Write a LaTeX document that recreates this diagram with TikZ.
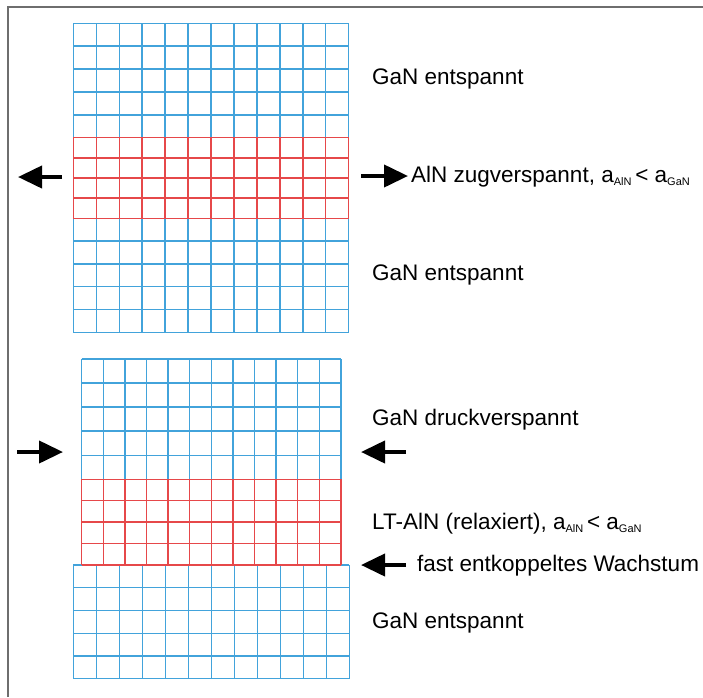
\documentclass[tikz,border=0pt]{standalone}
\usepackage{fontspec}
\setmainfont{Liberation Sans}
\usetikzlibrary{arrows.meta}

\definecolor{latblue}{HTML}{42A3DB}
\definecolor{latred}{HTML}{E6484A}
\definecolor{framegray}{HTML}{6E6E6E}

% lattice: x0, y0, x1, y1, columns, rows, line style
\newcommand\lattice[7]{%
  \pgfmathsetmacro\cellw{(#3-#1)/#5}%
  \pgfmathsetmacro\cellh{(#4-#2)/#6}%
  \foreach \k in {0,...,#5} {\draw[#7] ({#1+\k*\cellw},#2) -- ({#1+\k*\cellw},#4);}%
  \foreach \k in {0,...,#6} {\draw[#7] (#1,{#2+\k*\cellh}) -- (#3,{#2+\k*\cellh});}%
}
\newcommand\subtxt[1]{\raisebox{-3pt}{\fontsize{11}{13}\selectfont #1}}

\begin{document}
\begin{tikzpicture}[x=1pt,y=-1pt,
  gan/.style={latblue,line width=1.4pt},
  aln/.style={latred,line width=1.4pt},
  caption/.style={anchor=base west,inner sep=0pt,font=\fontsize{22.5}{27}\selectfont},
  bigarrow/.style={line width=4pt,-{Triangle[length=24pt,width=22pt]}}]

\useasboundingbox (0,0) rectangle (703,697);
\fill[white] (0,0) rectangle (703,697);

% frame
\draw[framegray,line width=1.5pt] (8,697) -- (8,7) -- (703,7);

% upper stack: relaxed GaN / tensile AlN / relaxed GaN
\lattice{73.3}{23.3}{348.7}{137.7}{12}{5}{gan}
\lattice{73.3}{218.3}{348.7}{332.3}{12}{5}{gan}
\lattice{73.3}{137.7}{348.7}{218.3}{12}{4}{aln}

% lower stack: compressed GaN / LT-AlN / relaxed GaN
\lattice{81.7}{359}{341}{479.3}{12}{5}{gan}
\lattice{73.3}{565}{349.3}{678.7}{12}{5}{gan}
\lattice{81.7}{479.3}{341}{565}{12}{4}{aln}

% captions
\node[caption] (g1) at (372,84) {GaN entspannt};
\node[caption] (a1) at (411,182) {AlN zugverspannt, a\subtxt{AlN}\,< a\subtxt{GaN}};
\node[caption] (g2) at (372,280) {GaN entspannt};
\node[caption] (g3) at (372,425) {GaN druckverspannt};
\node[caption] (a2) at (372,529) {LT-AlN (relaxiert), a\subtxt{AlN}\,< a\subtxt{GaN}};
\node[caption] (w1) at (417,571) {fast entkoppeltes Wachstum};
\node[caption] (g4) at (372,628) {GaN entspannt};

% strain arrows
\coordinate (p1) at (62,177);  \coordinate (q1) at (18,177);
\coordinate (p2) at (361,176); \coordinate (q2) at (408,176);
\coordinate (p3) at (17,452);  \coordinate (q3) at (63,452);
\coordinate (p4) at (406,452); \coordinate (q4) at (361,452);
\coordinate (p5) at (406,565); \coordinate (q5) at (361,565);
\draw[bigarrow] (p1) -- (q1);
\draw[bigarrow] (p2) -- (q2);
\draw[bigarrow] (p3) -- (q3);
\draw[bigarrow] (p4) -- (q4);
\draw[bigarrow] (p5) -- (q5);

\end{tikzpicture}
\end{document}
